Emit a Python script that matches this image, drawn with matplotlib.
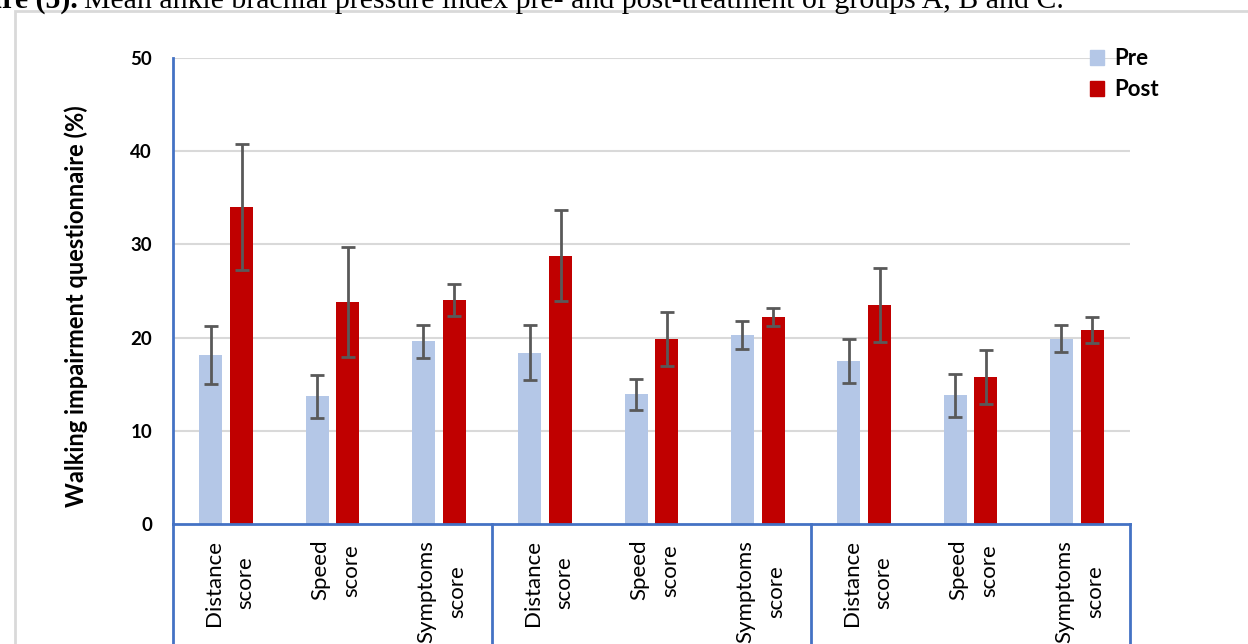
import matplotlib.pyplot as plt
from matplotlib.patches import Rectangle, Patch
from matplotlib.lines import Line2D
import numpy as np

# walking impairment questionnaire scores for groups A, B and C
categories = ["Distance\nscore", "Speed\nscore", "Symptoms\nscore"] * 3
pre_mean = [18.1, 13.7, 19.6, 18.4, 13.9, 20.3, 17.5, 13.8, 19.9]
pre_sd = [3.1, 2.3, 1.8, 3.0, 1.7, 1.5, 2.4, 2.3, 1.4]
post_mean = [34.0, 23.8, 24.0, 28.8, 19.8, 22.2, 23.5, 15.8, 20.8]
post_sd = [6.8, 5.9, 1.7, 4.9, 2.9, 1.0, 4.0, 2.9, 1.4]
yticks = [0, 10, 20, 30, 40, 50]

pre_color = "#B4C7E7"
post_color = "#C00000"
axis_blue = "#4472C4"
err_gray = "#595959"

plt.rcParams['font.family'] = ['Lato', 'DejaVu Sans']

fig = plt.figure(figsize=(12.48, 6.44), dpi=100)

# caption running off the top of the page
fig.text(78 / 1248, 1 - 8 / 644, "Figure (5).", fontsize=21.5, fontweight='bold',
         family='Liberation Serif', ha='right', va='baseline')
fig.text(84 / 1248, 1 - 8 / 644,
         "Mean ankle brachial pressure index pre- and post-treatment of groups A, B and C.",
         fontsize=21.5, family='Liberation Serif', ha='left', va='baseline')

# chart area border
fig.patches.append(Rectangle((15 / 1248, -0.1), 1.2, 1 - 11 / 644 + 0.1,
                             transform=fig.transFigure, fill=False,
                             edgecolor='#d9d9d9', linewidth=2))

ax = fig.add_axes([173 / 1248, 120 / 644, 957 / 1248, 466 / 644])

x = np.arange(len(categories))
w = 0.215
off = 0.145
ax.bar(x - off, pre_mean, w, color=pre_color, label='Pre', zorder=2)
ax.bar(x + off, post_mean, w, color=post_color, label='Post', zorder=2)
ax.errorbar(x - off, pre_mean, yerr=pre_sd, fmt='none', ecolor=err_gray,
            elinewidth=2, capsize=5, capthick=2, zorder=3)
ax.errorbar(x + off, post_mean, yerr=post_sd, fmt='none', ecolor=err_gray,
            elinewidth=2, capsize=5, capthick=2, zorder=3)

ax.set_xlim(-0.5, len(categories) - 0.5)
ax.set_ylim(0, 50)
ax.set_yticks(yticks)
ax.set_yticklabels([str(t) for t in yticks], fontsize=13.5, fontweight='bold')
ax.tick_params(axis='y', length=0, pad=15)
ax.set_xticks([])
for t in yticks[1:]:
    ax.axhline(t, color='#d9d9d9', linewidth=1.5, zorder=1)

for side in ['top', 'right']:
    ax.spines[side].set_visible(False)
for side in ['left', 'bottom']:
    ax.spines[side].set_color(axis_blue)
    ax.spines[side].set_linewidth(2)

ax.set_ylabel("Walking impairment questionnaire (%)", fontsize=17, fontweight='bold')
ax.yaxis.set_label_coords(-0.089, 0.468)

# multi-level category axis: group boxes below the plot
xtrans = ax.get_xaxis_transform()
for bx in [-0.5, 2.5, 5.5, 8.5]:
    ax.add_line(Line2D([bx, bx], [0, -0.5], transform=xtrans, color=axis_blue,
                       linewidth=2, clip_on=False))
for xi, lab in zip(x, categories):
    ax.text(xi + 0.03, -0.034, lab, transform=xtrans, rotation=90, ha='center',
            va='top', multialignment='center', fontsize=16, linespacing=1.7)

handles = [Patch(color=pre_color, label='Pre'), Patch(color=post_color, label='Post')]
ax.legend(handles=handles, loc='upper left', bbox_to_anchor=(1070 / 1248, 1 - 28 / 644),
          bbox_transform=fig.transFigure, frameon=False, prop={'size': 16, 'weight': 'bold'},
          handlelength=0.65, handleheight=0.65, handletextpad=0.45, labelspacing=0.45)

fig.savefig("out.png", dpi=100)
